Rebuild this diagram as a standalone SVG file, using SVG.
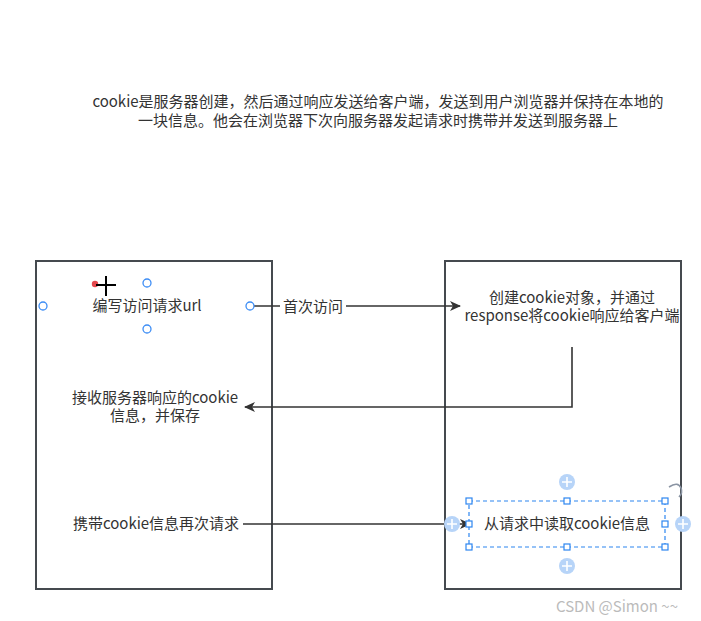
<svg xmlns="http://www.w3.org/2000/svg" width="701" height="621" viewBox="0 0 701 621">
<defs>
<style>
text{font-family:"Noto Sans CJK SC","Liberation Sans",sans-serif;fill:#333;font-size:15px;text-anchor:middle}
.box{fill:#fff;stroke:#454a4f;stroke-width:2}
.ln{fill:none;stroke:#333;stroke-width:1.6}
.hc{fill:#fff;stroke:#3d8df5;stroke-width:1.3}
.hs{fill:#fff;stroke:#2d86f0;stroke-width:1.2}
.pl{fill:#b7d4f8}
.pp{stroke:#fff;stroke-width:1.6}
</style>
<marker id="ah" markerWidth="12" markerHeight="10" refX="10" refY="5" orient="auto" markerUnits="userSpaceOnUse">
<path d="M0,0 L11,5 L0,10 L3,5 Z" fill="#333"/>
</marker>
</defs>
<rect width="701" height="621" fill="#fff"/>
<g id="desc">
<text x="378" y="107" font-size="15.5">cookie是服务器创建，然后通过响应发送给客户端，发送到用户浏览器并保持在本地的</text>
<text x="378" y="126" font-size="15.5">一块信息。他会在浏览器下次向服务器发起请求时携带并发送到服务器上</text>
</g>
<g id="client">
<rect class="box" x="36" y="261" width="236" height="328"/>
</g>
<g id="server">
<rect class="box" x="445" y="261" width="236" height="328"/>
</g>
<g id="connectors">
<path class="ln" d="M254,306 H460" marker-end="url(#ah)"/>
<rect x="280" y="296" width="66" height="20" fill="#fff"/>
<text x="313" y="312">首次访问</text>
<path class="ln" d="M572,347 V407 H245" marker-end="url(#ah)"/>
<path class="ln" d="M243,524 H470" marker-end="url(#ah)"/>
</g>
<g id="n-request">
<text x="147" y="311">编写访问请求url</text>
</g>
<g id="n-receive">
<text x="155" y="403">接收服务器响应的cookie</text>
<text x="155" y="421">信息，并保存</text>
</g>
<g id="n-again">
<text x="156" y="529">携带cookie信息再次请求</text>
</g>
<g id="n-create">
<text x="572" y="303">创建cookie对象，并通过</text>
<text x="572" y="321">response将cookie响应给客户端</text>
</g>
<g id="n-read">
<text x="567" y="529">从请求中读取cookie信息</text>
</g>
<g id="sel-left">
<circle class="hc" cx="147" cy="283" r="4"/>
<circle class="hc" cx="43" cy="306" r="4"/>
<circle class="hc" cx="250" cy="306" r="4"/>
<circle class="hc" cx="147" cy="329" r="4"/>
<circle cx="95" cy="284" r="3.2" fill="#e5484d"/>
<path d="M96,285 H116 M106,276 V296" stroke="#000" stroke-width="2"/>
</g>
<g id="sel-right">
<rect x="469" y="501" width="196" height="46" fill="none" stroke="#2d86f0" stroke-width="1.2" stroke-dasharray="4,3"/>
<rect class="hs" x="466" y="498" width="6" height="6"/>
<rect class="hs" x="564" y="498" width="6" height="6"/>
<rect class="hs" x="662" y="498" width="6" height="6"/>
<rect class="hs" x="466" y="521" width="6" height="6"/>
<rect class="hs" x="662" y="521" width="6" height="6"/>
<rect class="hs" x="466" y="544" width="6" height="6"/>
<rect class="hs" x="564" y="544" width="6" height="6"/>
<rect class="hs" x="662" y="544" width="6" height="6"/>
<circle class="pl" cx="567" cy="482" r="8"/><path class="pp" d="M562,482 H572 M567,477 V487"/>
<circle class="pl" cx="567" cy="566" r="8"/><path class="pp" d="M562,566 H572 M567,561 V571"/>
<circle class="pl" cx="452" cy="524" r="8"/><path class="pp" d="M447,524 H457 M452,519 V529"/>
<circle class="pl" cx="683" cy="524" r="8"/><path class="pp" d="M678,524 H688 M683,519 V529"/>
<path d="M669,487 Q678,481 681,488 Q683,493 679,497" fill="none" stroke="#8a94a3" stroke-width="1.6"/>
</g>
<text x="617" y="612" font-size="11" fill="#bbb" style="fill:#bbb">CSDN @Simon ~~</text>
</svg>
